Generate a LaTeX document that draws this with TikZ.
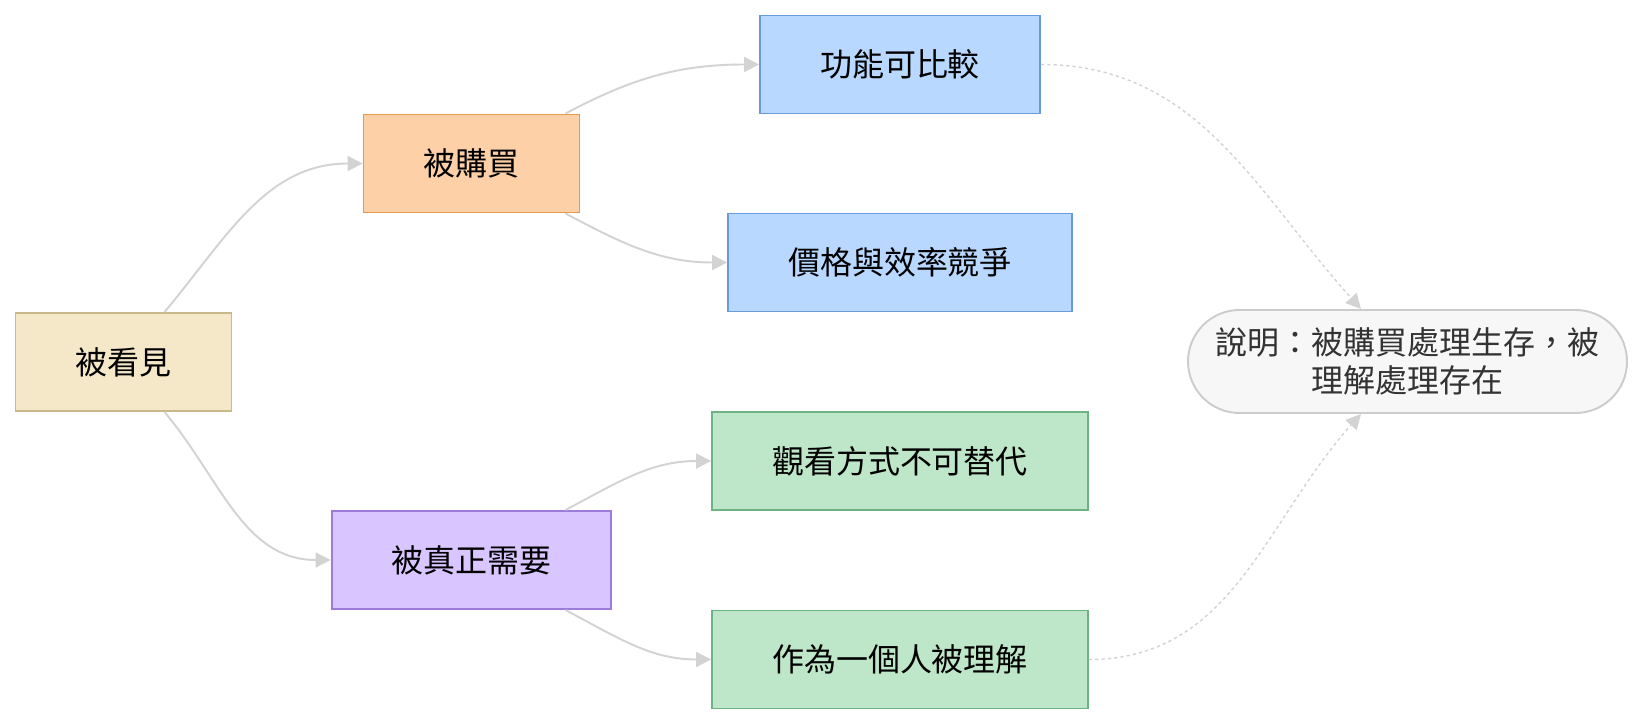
\documentclass[tikz,border=0pt]{standalone}
\usepackage{fontspec}
\newfontfamily\cjkfont{Noto Sans CJK TC}
\usepackage{xcolor}
\usepackage{tikz}
\usetikzlibrary{arrows.meta,positioning}

\definecolor{seenfill}{HTML}{F5E8C9}
\definecolor{seenline}{HTML}{C9B889}
\definecolor{buyfill}{HTML}{FDD0A8}
\definecolor{buyline}{HTML}{E8974F}
\definecolor{bluefill}{HTML}{B8D8FF}
\definecolor{blueline}{HTML}{6A9BDC}
\definecolor{needfill}{HTML}{D9C5FF}
\definecolor{needline}{HTML}{9D7BD8}
\definecolor{greenfill}{HTML}{BEE6C9}
\definecolor{greenline}{HTML}{6DB384}
\definecolor{notefill}{HTML}{F7F7F7}
\definecolor{noteline}{HTML}{CCCCCC}
\definecolor{linkgray}{HTML}{D3D3D3}
\definecolor{notetext}{HTML}{333333}

\begin{document}
\begin{tikzpicture}[
  box/.style  ={rectangle, line width=1.1pt, minimum height=1.96cm,
                inner xsep=1.2cm, text=black,
                font=\cjkfont\fontsize{18.2pt}{22pt}\selectfont},
  seen/.style ={box, draw=seenline,  fill=seenfill},
  buy/.style  ={box, draw=buyline,   fill=buyfill},
  need/.style ={box, draw=needline,  fill=needfill},
  blue/.style ={box, draw=blueline,  fill=bluefill},
  green/.style={box, draw=greenline, fill=greenfill},
  note/.style ={rectangle, rounded corners=1.03cm, draw=noteline, fill=notefill,
                line width=1.1pt, minimum width=8.78cm, minimum height=2.06cm,
                align=center, text=notetext,
                font=\cjkfont\fontsize{18.2pt}{21.4pt}\selectfont},
  arr/.style  ={-{Triangle[length=0.3cm,width=0.3cm]}, line width=1.1pt, linkgray},
  darr/.style ={arr, line width=0.8pt, dash pattern=on 1.8pt off 1.8pt}
]
\useasboundingbox (0,0) rectangle (32.88,14.48);

%% ── Left column ──────────────────────────────────────────────────────
\node[seen] (seen) at (2.47, 7.24) {被看見};

%% ── Middle column ────────────────────────────────────────────────────
\node[buy]  (bought) at (9.43, 11.21) {被購買};
\node[need] (needed) at (9.43, 3.28)  {被真正需要};

%% ── Right column ─────────────────────────────────────────────────────
\node[blue]  (func)  at (18.0, 13.19) {功能可比較};
\node[blue]  (price) at (18.0, 9.23)  {價格與效率競爭};
\node[green] (view)  at (18.0, 5.26)  {觀看方式不可替代};
\node[green] (human) at (18.0, 1.29)  {作為一個人被理解};

%% ── Note ─────────────────────────────────────────────────────────────
\node[note] (note) at (28.15, 7.25) {說明：被購買處理生存，被\\理解處理存在};

%% ── Links ────────────────────────────────────────────────────────────
\draw[arr] ([xshift=0.82cm]seen.north) to[out=50,in=180]  (bought.west);
\draw[arr] ([xshift=0.82cm]seen.south) to[out=-50,in=180] (needed.west);

\draw[arr] ([xshift=1.88cm]bought.north) to[out=28,in=180]  (func.west);
\draw[arr] ([xshift=1.88cm]bought.south) to[out=-28,in=180] (price.west);
\draw[arr] ([xshift=1.88cm]needed.north) to[out=28,in=180]  (view.west);
\draw[arr] ([xshift=1.88cm]needed.south) to[out=-28,in=180] (human.west);

\draw[darr] (func.east)  to[out=0,in=132]  ([xshift=-0.93cm]note.north);
\draw[darr] (human.east) to[out=0,in=-132] ([xshift=-0.93cm]note.south);

\end{tikzpicture}
\end{document}
